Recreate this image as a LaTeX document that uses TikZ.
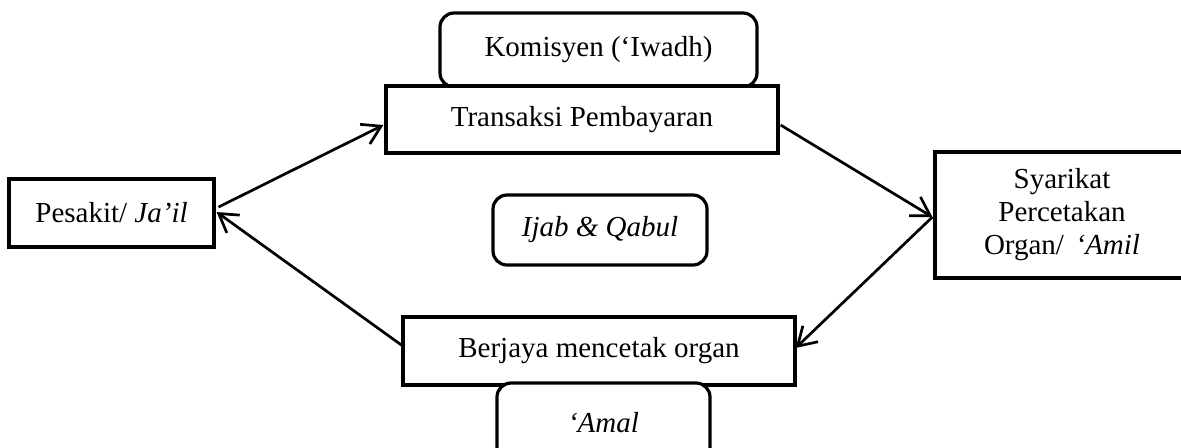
\documentclass[tikz,border=0pt]{standalone}
\usepackage{fontspec}
\setmainfont{Liberation Serif}
\usetikzlibrary{arrows.meta,calc}
\begin{document}
\begin{tikzpicture}[x=0.5pt,y=-0.5pt,
  box/.style={draw,line width=1.6pt,fill=white,inner sep=0pt,font=\fontsize{14.5}{16.5}\selectfont,align=center},
  rbox/.style={box,rounded corners=7pt},
  arr/.style={line width=1.35pt,-{Straight Barb[length=9pt,width=11pt]}}]
\useasboundingbox (0,0) rectangle (1181,447);
\node[rbox,minimum width=158.5pt,minimum height=37pt] (kom) at (598.5,50) {Komisyen (‘Iwadh)};
\node[box,minimum width=196pt,minimum height=33.5pt] (tra) at (582,119.5) {Transaksi Pembayaran};
\node[box,minimum width=102.5pt,minimum height=34pt] (pes) at (111.5,213) {Pesakit/ \textit{Ja’il}};
\node[box,minimum width=127pt,minimum height=63pt] (sya) at (1062,215) {Syarikat\\Percetakan\\Organ/\hspace{0.4em}\textit{‘Amil}};
\node[box,minimum width=196pt,minimum height=34pt] (ber) at (599,351) {Berjaya mencetak organ};
\node[rbox,minimum width=106.5pt,minimum height=40pt] (amal) at (603.5,423) {\textit{‘Amal}};
\node[rbox,minimum width=107pt,minimum height=35pt] (ijab) at (600,230) {\textit{Ijab \& Qabul}};
\draw[arr] ($(pes.east)+(3,-6)$) -- ($(tra.west)+(-1,5.5)$);
\draw[arr] ($(tra.east)+(1,5.5)$) -- ($(sya.west)+(-1,2)$);
\draw[arr] ($(sya.west)+(-1,2)$) -- ($(ber.east)+(-1,-3)$);
\draw[arr] ($(ber.west)+(0,-6)$) -- ($(pes.east)+(1,-1)$);
\end{tikzpicture}
\end{document}
